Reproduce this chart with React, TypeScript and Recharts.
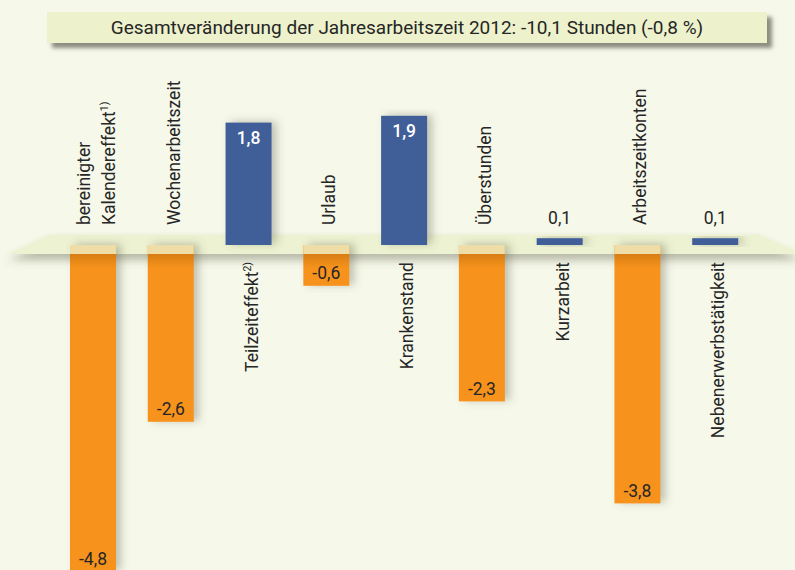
import React from "react";
import { BarChart, Bar, XAxis, YAxis, ReferenceLine, LabelList } from "recharts";

const title = "Gesamtveränderung der Jahresarbeitszeit 2012: -10,1 Stunden (-0,8 %)";
const categories = [
  "bereinigter Kalendereffekt",
  "Wochenarbeitszeit",
  "Teilzeiteffekt",
  "Urlaub",
  "Krankenstand",
  "Überstunden",
  "Kurzarbeit",
  "Arbeitszeitkonten",
  "Nebenerwerbstätigkeit",
];
const categoryLines = [
  ["bereinigter", "Kalendereffekt"],
  ["Wochenarbeitszeit"],
  ["Teilzeiteffekt"],
  ["Urlaub"],
  ["Krankenstand"],
  ["Überstunden"],
  ["Kurzarbeit"],
  ["Arbeitszeitkonten"],
  ["Nebenerwerbstätigkeit"],
];
const footnotes = ["1)", "", "2)", "", "", "", "", "", ""];
const values = [-4.8, -2.6, 1.8, -0.6, 1.9, -2.3, 0.1, -3.8, 0.1];
const yDomain = [-5, 2];

const data = categories.map((name, i) => ({ name, value: values[i] }));

const FONT = "Roboto, 'Noto Sans', sans-serif";
const BG = "#f6f8ea";
const ORANGE = "#f7931e";
const ORANGE_UNDER_BAND = "#efdda8";
const BLUE = "#3f5e99";
const BAND = "#edf2d2";
const TEXT = "#262626";

const fmt = (v: number) => v.toFixed(1).replace(".", ",");

function rectOf(props: any) {
  const vb = props.viewBox && typeof props.viewBox.x === "number" ? props.viewBox : props;
  const x = Number(vb.x);
  const y = Number(vb.y);
  const w = Number(vb.width);
  const h = Number(vb.height);
  return { x, width: w, top: Math.min(y, y + h), bottom: Math.max(y, y + h) };
}

const BarShape = (props: any) => {
  const { x, y, width, height, index } = props;
  if (typeof x !== "number" || typeof y !== "number") return null;
  const top = Math.min(y, y + height);
  const h = Math.abs(height);
  const v = values[index];
  if (v < 0) {
    return (
      <g>
        <rect x={x} y={top} width={width} height={h} fill={ORANGE} filter="url(#barShadow)" />
        <rect x={x} y={top} width={width} height={Math.min(9, h)} fill={ORANGE_UNDER_BAND} />
        <rect x={x} y={top + 9} width={width} height={Math.min(14, Math.max(0, h - 9))} fill="url(#underBand)" />
      </g>
    );
  }
  return <rect x={x} y={top} width={width} height={h} fill={BLUE} filter="url(#barShadow)" />;
};

const ValueLabel = (props: any) => {
  const idx = props.index;
  if (typeof idx !== "number") return null;
  const r = rectOf(props);
  const v = values[idx];
  const cx = r.x + r.width / 2;
  const h = r.bottom - r.top;
  if (v < 0) {
    return (
      <text x={cx} y={r.bottom - 6.5} textAnchor="middle" fontFamily={FONT} fontSize={17.5} fill={TEXT}>
        {fmt(v)}
      </text>
    );
  }
  if (h < 30) {
    return (
      <text x={cx} y={r.top - 14.5} textAnchor="middle" fontFamily={FONT} fontSize={17.5} fill={TEXT}>
        {fmt(v)}
      </text>
    );
  }
  return (
    <text x={cx} y={r.top + 21.5} textAnchor="middle" fontFamily={FONT} fontSize={17.5} fontWeight={500} fill="#ffffff">
      {fmt(v)}
    </text>
  );
};

const CategoryLabel = (props: any) => {
  const idx = props.index;
  if (typeof idx !== "number") return null;
  const r = rectOf(props);
  const v = values[idx];
  const cx = r.x + r.width / 2 + 1;
  const lines = categoryLines[idx];
  const n = lines.length;
  const spacing = 25;
  const negative = v < 0;
  const ly = negative ? r.top - 20 : r.bottom + 17;
  return (
    <g>
      {lines.map((line, li) => {
        const lx = cx + 8 + (li - (n - 1) / 2) * spacing;
        const isLast = li === n - 1;
        return (
          <text
            key={li}
            transform={`translate(${lx},${ly}) rotate(-90)`}
            x={0}
            y={0}
            textAnchor={negative ? "start" : "end"}
            fontFamily={FONT}
            fontSize={17.5}
            fill={TEXT}
          >
            {line}
            {isLast && footnotes[idx] ? (
              <tspan fontSize={10.5} dy={-7}>
                {footnotes[idx]}
              </tspan>
            ) : null}
          </text>
        );
      })}
    </g>
  );
};

const Band = (props: any) => {
  const { x1, x2, y1 } = props;
  if (typeof y1 !== "number") return null;
  const pts = `${x1 - 4},${y1 - 10.5} ${x2 + 6},${y1 - 10.5} ${x2 + 48},${y1 + 9} ${x1 - 46},${y1 + 9}`;
  return <polygon points={pts} fill={BAND} filter="url(#bandShadow)" />;
};

export default function App() {
  return (
    <div
      style={{
        position: "absolute",
        left: 0,
        top: 0,
        width: 795,
        height: 570,
        overflow: "hidden",
        background: BG,
        fontFamily: FONT,
      }}
    >
      <svg width={0} height={0} style={{ position: "absolute" }}>
        <defs>
          <filter id="barShadow" x="-50%" y="-20%" width="200%" height="140%">
            <feDropShadow dx={5} dy={-1} stdDeviation={4} floodColor="#5a5a40" floodOpacity={0.35} />
          </filter>
          <filter id="bandShadow" x="-10%" y="-100%" width="120%" height="400%">
            <feDropShadow dx={0} dy={6} stdDeviation={4} floodColor="#5a5a40" floodOpacity={0.4} />
          </filter>
          <linearGradient id="underBand" x1="0" y1="0" x2="0" y2="1">
            <stop offset="0%" stopColor="#8a4a00" stopOpacity={0.3} />
            <stop offset="100%" stopColor="#8a4a00" stopOpacity={0} />
          </linearGradient>
        </defs>
      </svg>
      <div
        style={{
          position: "absolute",
          left: 47,
          top: 12,
          width: 720,
          height: 31,
          background: "#edf2cc",
          boxShadow: "5px 5px 4px rgba(70,70,60,0.6)",
          textAlign: "center",
          lineHeight: "32px",
          fontSize: 19,
          color: TEXT,
          fontFamily: FONT,
        }}
      >
        {title}
      </div>
      <div style={{ position: "absolute", left: 0, top: 0 }}>
        <BarChart
          width={795}
          height={600}
          data={data}
          margin={{ top: 109, right: 41, bottom: 15, left: 54 }}
        >
          <XAxis dataKey="name" hide />
          <YAxis type="number" domain={yDomain} hide allowDataOverflow />
          <ReferenceLine y={0} shape={<Band />} zIndex={-10} />
          <Bar dataKey="value" barSize={46} shape={<BarShape />} isAnimationActive={false}>
            <LabelList dataKey="value" content={<ValueLabel />} />
            <LabelList dataKey="name" content={<CategoryLabel />} />
          </Bar>
        </BarChart>
      </div>
    </div>
  );
}
